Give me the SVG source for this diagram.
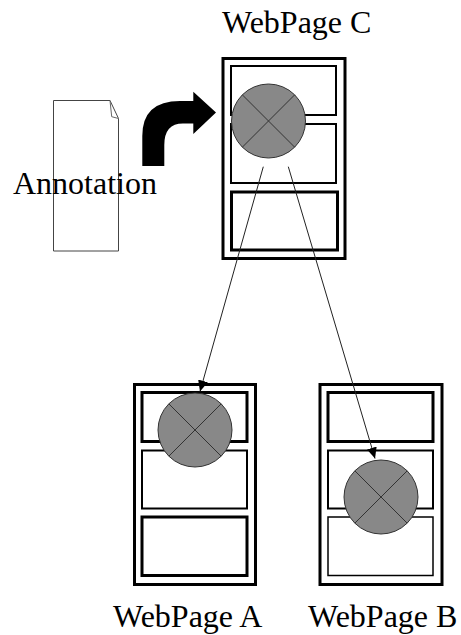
<svg xmlns="http://www.w3.org/2000/svg" width="461" height="635" viewBox="0 0 461 635">
<style>
.lbl{font-family:"Liberation Serif","Times New Roman",serif;font-size:32px;fill:#000}
.outer{fill:#fff;stroke:#000;stroke-width:3}
.thick{fill:#fff;stroke:#000;stroke-width:3}
.med{fill:#fff;stroke:#000;stroke-width:2}
.thin{fill:#fff;stroke:#000;stroke-width:1.5}
.ball{fill:#888888;stroke:#333;stroke-width:1}
.x{stroke:#333;stroke-width:1;fill:none}
.conn{stroke:#222;stroke-width:1;fill:none;marker-end:url(#ah)}
</style>
<defs>
<marker id="ah" markerUnits="userSpaceOnUse" markerWidth="12" markerHeight="10" refX="11" refY="5" orient="auto">
<path d="M0,0 L11,5 L0,10 Z" fill="#000"/>
</marker>
<g id="ballshape">
<circle class="ball" cx="0" cy="0" r="37"/>
<path class="x" d="M-26.2,-26.2 L26.2,26.2 M26.2,-26.2 L-26.2,26.2"/>
</g>
</defs>
<rect width="461" height="635" fill="#fff"/>
<g id="annotation">
<path d="M53.5,100.5 L110,100.5 L118.5,118.5 L118.5,251 L53.5,251 Z" fill="#fff" stroke="#444" stroke-width="1"/>
<path d="M110,100.5 L111.7,116.7 L118.5,118.5" fill="none" stroke="#666" stroke-width="1"/>
<text class="lbl" x="13" y="193.5">Annotation</text>
</g>
<g id="bigarrow">
<path d="M142.3,166 L142.3,136 Q142.3,101 180,101 L193.3,101 L193.3,91.7 L216,112.5 L193.3,134 L193.3,123.5 L183,123.5 Q164.3,123.5 164.3,145 L164.3,166 Z" fill="#000"/>
</g>
<g id="webpageC">
<rect class="outer" x="223" y="58.5" width="122" height="200"/>
<rect class="med" x="231" y="66" width="105" height="49"/>
<rect class="med" x="231" y="124" width="105" height="59"/>
<rect class="thick" x="231.5" y="192" width="106" height="58"/>
<use href="#ballshape" x="268.5" y="121"/>
<text class="lbl" x="222" y="33">WebPage C</text>
</g>
<g id="webpageA">
<rect class="outer" x="134.5" y="384.5" width="121" height="200"/>
<rect class="thick" x="142" y="392.5" width="105" height="49"/>
<rect class="med" x="142" y="450.5" width="105" height="58"/>
<rect class="thick" x="142" y="517" width="105" height="58.5"/>
<use href="#ballshape" x="195" y="430"/>
<text class="lbl" x="113" y="627">WebPage A</text>
</g>
<g id="webpageB">
<rect class="outer" x="320" y="384.5" width="122" height="200"/>
<rect class="thick" x="328" y="392.5" width="105" height="49"/>
<rect class="med" x="328" y="450.5" width="105" height="58"/>
<rect class="thin" x="328" y="517" width="105" height="58.5"/>
<use href="#ballshape" x="381" y="497"/>
<text class="lbl" x="308" y="627">WebPage B</text>
</g>
<g id="connectors">
<line class="conn" x1="263.3" y1="166.7" x2="200" y2="391.5"/>
<line class="conn" x1="288.3" y1="166.7" x2="375" y2="458.5"/>
</g>
</svg>
